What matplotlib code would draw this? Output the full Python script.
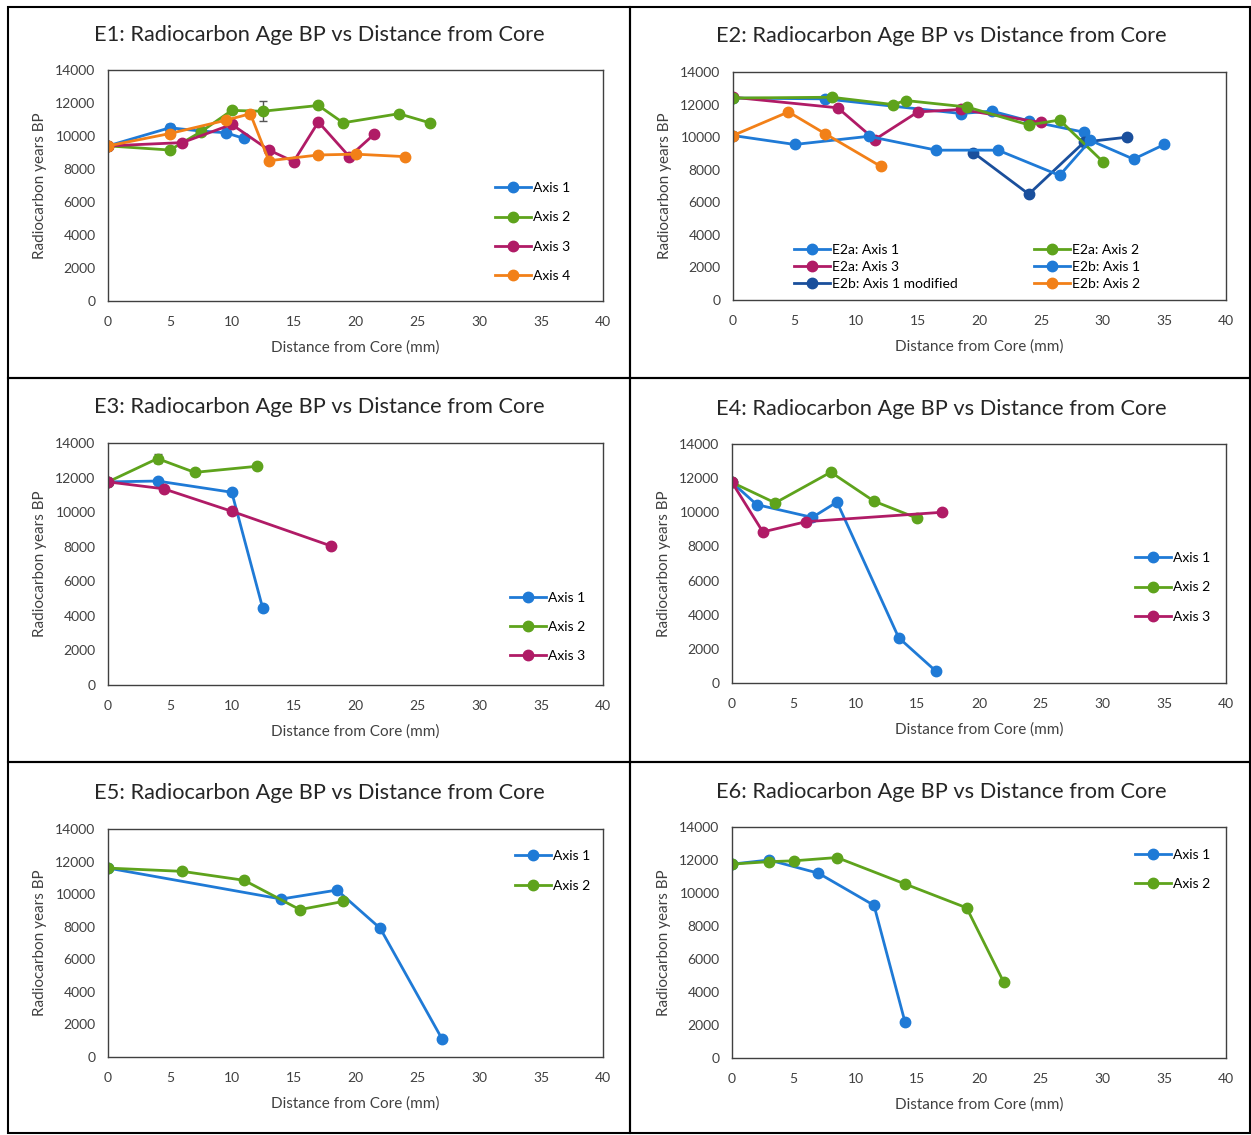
import numpy as np
import matplotlib
matplotlib.use("Agg")
import matplotlib.pyplot as plt
from matplotlib.lines import Line2D

plt.rcParams['font.family'] = ['Lato', 'DejaVu Sans']

BLUE = '#1f7ad6'
GREEN = '#5ea31c'
MAGENTA = '#b01b66'
ORANGE = '#f28018'
DARK = '#1a4f9c'

# ---- data (distance mm, radiocarbon years BP) ----
e1_x1 = [0, 5, 7.5, 9.5, 11]
e1_y1 = [9400, 10500, 10300, 10200, 9850]
e1_x2 = [0, 5, 7.5, 10, 12.5, 17, 19, 23.5, 26]
e1_y2 = [9400, 9150, 10250, 11550, 11500, 11850, 10800, 11350, 10800]
e1_e2 = [0, 0, 0, 150, 600, 150, 0, 0, 0]
e1_x3 = [0, 6, 10, 13, 15, 17, 19.5, 21.5]
e1_y3 = [9400, 9600, 10700, 9150, 8450, 10850, 8750, 10100]
e1_x4 = [0, 5, 9.5, 11.5, 13, 17, 20, 24]
e1_y4 = [9400, 10150, 10950, 11350, 8500, 8850, 8900, 8750]

e2a_x1 = [0, 7.5, 18.5, 21, 24, 28.5]
e2a_y1 = [12400, 12350, 11450, 11600, 11000, 10300]
e2a_x2 = [0, 8, 13, 14, 19, 24, 26.5, 30]
e2a_y2 = [12400, 12450, 12000, 12250, 11850, 10750, 11050, 8500]
e2a_x3 = [0, 8.5, 11.5, 15, 18.5, 25]
e2a_y3 = [12450, 11800, 9850, 11550, 11700, 10900]
e2b_x1 = [0, 5, 11, 16.5, 21.5, 26.5, 29, 32.5, 35]
e2b_y1 = [10100, 9550, 10050, 9200, 9200, 7650, 9800, 8650, 9550]
e2b_xm = [19.5, 24, 28.5, 32]
e2b_ym = [9050, 6500, 9700, 10000]
e2b_x2 = [0, 4.5, 7.5, 12]
e2b_y2 = [10100, 11550, 10200, 8200]

e3_x1 = [0, 4, 10, 12.5]
e3_y1 = [11750, 11800, 11150, 4450]
e3_x2 = [0, 4, 7, 12]
e3_y2 = [11750, 13100, 12300, 12650]
e3_x3 = [0, 4.5, 10, 18]
e3_y3 = [11750, 11350, 10050, 8050]

e4_x1 = [0, 2, 6.5, 8.5, 13.5, 16.5]
e4_y1 = [11750, 10450, 9700, 10600, 2650, 700]
e4_x2 = [0, 3.5, 8, 11.5, 15]
e4_y2 = [11750, 10550, 12350, 10650, 9650]
e4_x3 = [0, 2.5, 6, 17]
e4_y3 = [11750, 8850, 9450, 10000]

e5_x1 = [0, 14, 18.5, 22, 27]
e5_y1 = [11600, 9700, 10250, 7900, 1100]
e5_x2 = [0, 6, 11, 15.5, 19]
e5_y2 = [11600, 11400, 10850, 9050, 9550]

e6_x1 = [0, 3, 7, 11.5, 14]
e6_y1 = [11750, 12000, 11200, 9250, 2200]
e6_x2 = [0, 3, 5, 8.5, 14, 19, 22]
e6_y2 = [11750, 11900, 11950, 12150, 10550, 9100, 4600]

W, H = 1251, 1135
fig = plt.figure(figsize=(W / 100, H / 100), dpi=100)


def make_ax(l, r, t, b):
    ax = fig.add_axes([l / W, 1 - b / H, (r - l) / W, (b - t) / H])
    ax.set_xlim(0, 40)
    ax.set_ylim(0, 14000)
    ax.set_xticks(range(0, 41, 5))
    ax.set_yticks(range(0, 14001, 2000))
    ax.tick_params(length=0, pad=9, labelsize=10, colors='#404040')
    ax.tick_params(axis='x', pad=11)
    for s in ax.spines.values():
        s.set_color('#404040')
        s.set_linewidth(1.0)
    ax.set_xlabel('Distance from Core (mm)', fontsize=11, color='#404040')
    ax.set_ylabel('Radiocarbon years BP', fontsize=11, color='#404040')
    ax.xaxis.set_label_coords(0.5, -0.2 * 231 / (b - t))
    ax.xaxis.label.set_va('center')
    ax.yaxis.set_label_coords(-68 / (r - l), 0.5)
    ax.yaxis.label.set_va('center')
    return ax


def series(ax, x, y, c, label, yerr=None):
    ax.errorbar(x, y, yerr=yerr, color=c, lw=2.0, marker='o', ms=7.5,
                ecolor='#555555', elinewidth=1, capsize=3, label=label)


def legend(ax, **kw):
    h, lab = ax.get_legend_handles_labels()
    h = [Line2D([], [], color=hh[0].get_color(), lw=2.0, marker='o', ms=7.5) for hh in h]
    ax.legend(h, lab, frameon=False, fontsize=10, handlelength=2.6,
              handletextpad=0.15, borderaxespad=0, **kw)


# panel frames
for (x0, y0, x1, y1) in [(8, 7, 630, 378), (630, 7, 1250, 378),
                         (8, 378, 630, 762), (630, 378, 1250, 762),
                         (8, 762, 630, 1133), (630, 762, 1250, 1133)]:
    fig.add_artist(plt.Rectangle((x0 / W, 1 - y1 / H), (x1 - x0) / W, (y1 - y0) / H,
                                 transform=fig.transFigure, fill=False,
                                 edgecolor='black', lw=1.5))

titles = [('E1', 319, 35), ('E2', 941, 36), ('E3', 319, 407),
          ('E4', 941, 409), ('E5', 319, 793), ('E6', 941, 792)]
for name, cx, cy in titles:
    fig.text(cx / W, 1 - cy / H, name + ': Radiocarbon Age BP vs Distance from Core',
             ha='center', va='center', fontsize=15.7, color='#262626')

# E1
ax = make_ax(108, 603, 70, 301)
series(ax, e1_x1, e1_y1, BLUE, 'Axis 1', [0, 250, 0, 0, 0])
series(ax, e1_x2, e1_y2, GREEN, 'Axis 2', e1_e2)
series(ax, e1_x3, e1_y3, MAGENTA, 'Axis 3')
series(ax, e1_x4, e1_y4, ORANGE, 'Axis 4', [0, 0, 0, 200, 0, 0, 0, 0])
legend(ax, loc='center left', bbox_to_anchor=(0.77, 0.298), labelspacing=1.25)

# E2
ax = make_ax(733, 1226, 72, 300)
series(ax, e2a_x1, e2a_y1, BLUE, 'E2a: Axis 1')
series(ax, e2a_x3, e2a_y3, MAGENTA, 'E2a: Axis 3')
series(ax, e2b_xm, e2b_ym, DARK, 'E2b: Axis 1 modified')
series(ax, e2a_x2, e2a_y2, GREEN, 'E2a: Axis 2')
series(ax, e2b_x1, e2b_y1, BLUE, 'E2b: Axis 1')
series(ax, e2b_x2, e2b_y2, ORANGE, 'E2b: Axis 2')
legend(ax, loc='center', bbox_to_anchor=(0.475, 0.145), ncol=2,
       labelspacing=0.35, columnspacing=5.5)

# E3
ax = make_ax(108, 603, 443, 685)
series(ax, e3_x1, e3_y1, BLUE, 'Axis 1')
series(ax, e3_x2, e3_y2, GREEN, 'Axis 2', [0, 250, 150, 150])
series(ax, e3_x3, e3_y3, MAGENTA, 'Axis 3')
legend(ax, loc='center left', bbox_to_anchor=(0.8, 0.24), labelspacing=1.25)

# E4
ax = make_ax(732, 1226, 444, 683)
series(ax, e4_x1, e4_y1, BLUE, 'Axis 1')
series(ax, e4_x2, e4_y2, GREEN, 'Axis 2', [0, 0, 150, 0, 150])
series(ax, e4_x3, e4_y3, MAGENTA, 'Axis 3')
legend(ax, loc='center left', bbox_to_anchor=(0.805, 0.40), labelspacing=1.25)

# E5
ax = make_ax(108, 603, 829, 1057)
series(ax, e5_x1, e5_y1, BLUE, 'Axis 1')
series(ax, e5_x2, e5_y2, GREEN, 'Axis 2', [0, 150, 0, 0, 150])
legend(ax, loc='center left', bbox_to_anchor=(0.81, 0.816), labelspacing=1.25)

# E6
ax = make_ax(732, 1226, 827, 1058)
series(ax, e6_x1, e6_y1, BLUE, 'Axis 1', [0, 150, 150, 0, 0])
series(ax, e6_x2, e6_y2, GREEN, 'Axis 2', [0, 0, 0, 150, 150, 0, 0])
legend(ax, loc='center left', bbox_to_anchor=(0.805, 0.816), labelspacing=1.25)

fig.savefig('out.png', dpi=100, facecolor='white')
